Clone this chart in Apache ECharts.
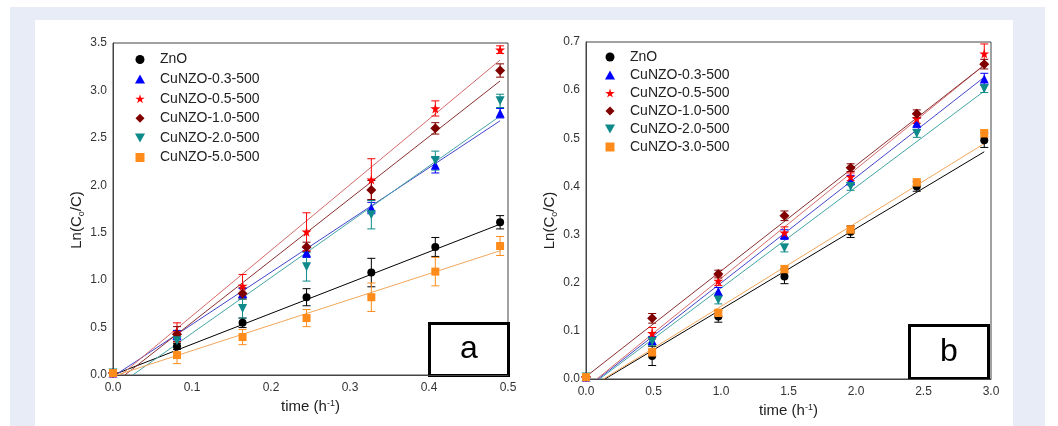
<!DOCTYPE html>
<html>
<head>
<meta charset="utf-8">
<script src="https://cdn.jsdelivr.net/npm/echarts@6/dist/echarts.min.js"></script>
<style>
  html, body { margin: 0; padding: 0; background: #fff; }
  #chart { width: 1058px; height: 426px; }
</style>
</head>
<body>
<div id="chart"></div>
<script>
// panel a
const namesA = ['ZnO', 'CuNZO-0.3-500', 'CuNZO-0.5-500', 'CuNZO-1.0-500', 'CuNZO-2.0-500', 'CuNZO-5.0-500']
const timeA = [0, 0.081, 0.164, 0.245, 0.327, 0.408, 0.49]
const aZnO = [0.02, 0.30, 0.55, 0.82, 1.08, 1.35, 1.61]
const a03 = [0.02, 0.42, 0.86, 1.29, 1.76, 2.21, 2.76]
const a05 = [0.02, 0.45, 0.94, 1.51, 2.06, 2.81, 3.43]
const a10 = [0.02, 0.43, 0.86, 1.35, 1.95, 2.60, 3.21]
const a20 = [0.02, 0.36, 0.70, 1.14, 1.69, 2.26, 2.89]
const a50 = [0.02, 0.21, 0.40, 0.60, 0.82, 1.09, 1.36]
const errAZnO = [0, 0.03, 0.05, 0.09, 0.15, 0.10, 0.07]
const errA03 = [0, 0.05, 0.05, 0.05, 0.06, 0.08, 0.05]
const errA05 = [0, 0.10, 0.12, 0.20, 0.22, 0.08, 0.04]
const errA10 = [0, 0.08, 0.06, 0.05, 0.10, 0.06, 0.07]
const errA20 = [0, 0.05, 0.10, 0.15, 0.15, 0.10, 0.07]
const errA50 = [0, 0.09, 0.08, 0.09, 0.15, 0.15, 0.10]
// fitted lines, [start, end]
const fitAZnO = [[0, 0], [0.49, 1.59]]
const fitA03 = [[0.003, 0], [0.49, 2.68]]
const fitA05 = [[0.01, 0], [0.49, 3.32]]
const fitA10 = [[0.015, 0], [0.49, 3.10]]
const fitA20 = [[0.025, 0], [0.49, 2.73]]
const fitA50 = [[0.005, 0], [0.49, 1.31]]

// panel b
const namesB = ['ZnO', 'CuNZO-0.3-500', 'CuNZO-0.5-500', 'CuNZO-1.0-500', 'CuNZO-2.0-500', 'CuNZO-3.0-500']
const timeB = [0, 0.49, 0.98, 1.47, 1.96, 2.45, 2.95]
const bZnO = [0.004, 0.048, 0.130, 0.213, 0.306, 0.400, 0.496]
const b03 = [0.004, 0.080, 0.182, 0.300, 0.413, 0.532, 0.623]
const b05 = [0.004, 0.095, 0.204, 0.304, 0.420, 0.541, 0.676]
const b10 = [0.004, 0.126, 0.218, 0.339, 0.439, 0.551, 0.654]
const b20 = [0.004, 0.078, 0.164, 0.272, 0.400, 0.510, 0.603]
const b30 = [0.004, 0.055, 0.137, 0.228, 0.310, 0.408, 0.510]
const errBZnO = [0, 0.02, 0.012, 0.015, 0.012, 0.01, 0.015]
const errB03 = [0, 0.008, 0.008, 0.01, 0.01, 0.01, 0.012]
const errB05 = [0, 0.012, 0.01, 0.012, 0.008, 0.01, 0.02]
const errB10 = [0, 0.01, 0.008, 0.01, 0.008, 0.008, 0.01]
const errB20 = [0, 0.008, 0.008, 0.008, 0.008, 0.008, 0.008]
const errB30 = [0, 0.008, 0.008, 0.008, 0.008, 0.008, 0.008]
const fitBZnO = [[0.14, 0], [2.95, 0.472]]
const fitB03 = [[0.09, 0], [2.95, 0.627]]
const fitB05 = [[0.08, 0], [2.95, 0.652]]
const fitB10 = [[0, 0.005], [2.95, 0.652]]
const fitB20 = [[0.10, 0], [2.95, 0.598]]
const fitB30 = [[0.13, 0], [2.95, 0.489]]

const colors = ['#000000', '#0000ff', '#ff0000', '#800000', '#0e8a8a', '#ff8c1a']
const lineColors = ['#000000', '#4444cc', '#d46a6a', '#8a3030', '#45a5a5', '#f2a65a']
const symbols = [
  'circle',
  'path://M5,0L10,9L0,9Z',
  'path://M50,0L61,35L98,35L68,57L79,91L50,70L21,91L32,57L2,35L39,35Z',
  'path://M5,0L10,5L5,10L0,5Z',
  'path://M0,0L10,0L5,9Z',
  'path://M0,0L10,0L10,10L0,10Z'
]
const sizes = [8, 9, 10, 10, 9, 8]

const font = 'Liberation Sans'

const errRender = (params, api) => {
  const x = api.value(0), y = api.value(1), e = api.value(2)
  if (!e) return
  const top = api.coord([x, y + e])
  const bot = api.coord([x, y - e])
  const w = 4
  const style = { stroke: api.visual('color'), lineWidth: 1 }
  return {
    type: 'group',
    children: [
      { type: 'line', shape: { x1: top[0], y1: top[1], x2: bot[0], y2: bot[1] }, style },
      { type: 'line', shape: { x1: top[0] - w, y1: top[1], x2: top[0] + w, y2: top[1] }, style },
      { type: 'line', shape: { x1: bot[0] - w, y1: bot[1], x2: bot[0] + w, y2: bot[1] }, style }
    ]
  }
}

const buildSeries = (idx, names, time, vals, errs, fits) => {
  const out = []
  names.forEach((name, i) => {
    out.push({
      name: 'fit-' + idx + '-' + i,
      type: 'line',
      xAxisIndex: idx, yAxisIndex: idx,
      data: fits[i],
      symbol: 'none',
      silent: true,
      lineStyle: { color: lineColors[i], width: 1 },
      z: 2
    })
    out.push({
      name: 'err-' + idx + '-' + i,
      type: 'custom',
      xAxisIndex: idx, yAxisIndex: idx,
      data: time.map((t, k) => [t, vals[i][k], errs[i][k]]),
      encode: { x: 0, y: 1 },
      renderItem: errRender,
      itemStyle: { color: colors[i] },
      silent: true,
      z: 3
    })
  })
  names.forEach((name, i) => {
    out.push({
      name,
      type: 'scatter',
      xAxisIndex: idx, yAxisIndex: idx,
      data: time.map((t, k) => [t, vals[i][k]]),
      symbol: symbols[i],
      symbolSize: sizes[i],
      itemStyle: { color: colors[i], opacity: 1 },
      z: 4 + i * 0.01
    })
  })
  return out
}

const axisLabelStyle = { color: '#333', fontFamily: font, fontSize: 12 }
const nameStyle = (shift) => ({
  color: '#222', fontFamily: font, fontSize: 15,
  padding: [0, shift, 0, 0],
  rich: {
    sup: { fontSize: 9, verticalAlign: 'top', lineHeight: 15, color: '#222', fontFamily: font },
    sub: { fontSize: 9, verticalAlign: 'bottom', lineHeight: 19, color: '#222', fontFamily: font }
  }
})

const xAxisBase = (gridIndex, max, interval) => ({
  type: 'value', gridIndex, min: 0, max, interval,
  name: 'time (h{sup|-1})', nameLocation: 'middle', nameGap: 24,
  nameTextStyle: nameStyle(0),
  axisLine: { show: true, lineStyle: { color: '#444', width: 1 } },
  axisTick: { show: false },
  splitLine: { show: false },
  axisLabel: Object.assign({ margin: 7, formatter: v => v.toFixed(1) }, axisLabelStyle)
})
const yAxisBase = (gridIndex, max, interval, pad, shift) => ({
  type: 'value', gridIndex, min: 0, max, interval,
  name: 'Ln(C{sub|o}/C)', nameLocation: 'middle', nameGap: 26,
  nameTextStyle: nameStyle(shift),
  axisLine: { show: true, lineStyle: { color: '#444', width: 1 } },
  axisTick: { show: false },
  splitLine: { show: false },
  axisLabel: Object.assign({ margin: 6, padding: [0, 0, pad, 0], formatter: v => v.toFixed(1) }, axisLabelStyle)
})

const legendBase = (data, left, top, gap) => ({
  data, orient: 'vertical', left, top, padding: 0,
  itemWidth: 30, itemHeight: 9, itemGap: gap,
  textStyle: { fontFamily: font, fontSize: 14, color: '#222', lineHeight: 14 },
  selectedMode: false
})

const boxLabel = (x, y, w, h, text) => ({
  type: 'group', left: x, top: y, z: 100,
  children: [
    { type: 'rect', shape: { x: 0, y: 0, width: w, height: h }, style: { fill: '#fff', stroke: '#000', lineWidth: 3 } },
    { type: 'text', x: w / 2, y: h / 2, style: { text, fontFamily: font, fontSize: 32, fill: '#000', align: 'center', verticalAlign: 'middle' } }
  ]
})

const option = {
  animation: false,
  backgroundColor: '#fff',
  graphic: [
    { type: 'rect', z: -10, shape: { x: 10, y: 7, width: 1035, height: 419 }, style: { fill: '#e8ecf6' } },
    { type: 'rect', z: -9, shape: { x: 35, y: 20, width: 978, height: 406 }, style: { fill: '#ffffff' } },
    boxLabel(428, 322, 79, 52, 'a'),
    boxLabel(908, 324, 79, 53, 'b')
  ],
  grid: [
    { left: 113, top: 43, width: 395, height: 332, show: true, borderColor: '#444', borderWidth: 1, backgroundColor: 'transparent' },
    { left: 586, top: 42, width: 405, height: 337, show: true, borderColor: '#444', borderWidth: 1, backgroundColor: 'transparent' }
  ],
  xAxis: [xAxisBase(0, 0.5, 0.1), xAxisBase(1, 3, 0.5)],
  yAxis: [yAxisBase(0, 3.5, 0.5, 6, 22), yAxisBase(1, 0.7, 0.1, 10, 20)],
  legend: [
    legendBase(namesA, 135, 52.5, 5.6),
    legendBase(namesB, 605, 50, 4)
  ],
  series: [
    ...buildSeries(0, namesA, timeA,
      [aZnO, a03, a05, a10, a20, a50],
      [errAZnO, errA03, errA05, errA10, errA20, errA50],
      [fitAZnO, fitA03, fitA05, fitA10, fitA20, fitA50]),
    ...buildSeries(1, namesB, timeB,
      [bZnO, b03, b05, b10, b20, b30],
      [errBZnO, errB03, errB05, errB10, errB20, errB30],
      [fitBZnO, fitB03, fitB05, fitB10, fitB20, fitB30])
  ]
}

const chart = echarts.init(document.getElementById('chart'), null, { renderer: 'canvas' })
chart.setOption(option)
</script>
</body>
</html>
